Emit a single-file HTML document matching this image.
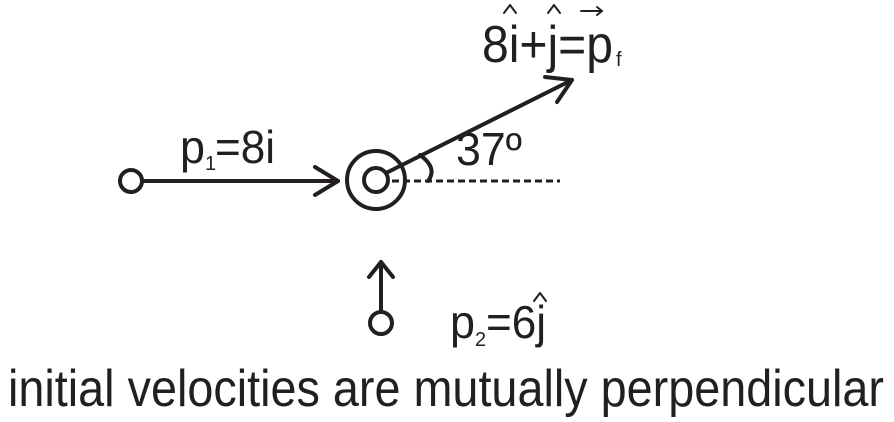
<!DOCTYPE html>
<html><head><style>html,body{margin:0;padding:0;background:#fff}svg{display:block}</style></head>
<body>
<svg width="894" height="422" viewBox="0 0 894 422" xmlns="http://www.w3.org/2000/svg" font-family="Liberation Sans, Arial, sans-serif" fill="#231f20">
<g stroke="#231f20" stroke-width="4" fill="none" stroke-linecap="round" stroke-linejoin="round">
<circle cx="131" cy="181" r="11"/>
<line x1="142" y1="181" x2="338" y2="181"/>
<polyline points="315,167 338,181 315,195"/>
<circle cx="376" cy="180" r="29"/>
<circle cx="376" cy="180" r="12"/>
<line x1="386" y1="173" x2="572" y2="80"/>
<polyline points="545,77 572,80 557,102"/>
<line x1="392" y1="181" x2="560" y2="181" stroke-dasharray="7,4" stroke-linecap="butt" stroke-width="3"/>
<path d="M420,155 Q438,168 428,181"/>
<line x1="381" y1="310" x2="381" y2="262"/>
<polyline points="369,277 381,262 393,277"/>
<circle cx="381" cy="323" r="11"/>
<polyline points="504,13 510,5 516,13" stroke-width="2"/>
<polyline points="548,13 554,5 560,13" stroke-width="2"/>
<line x1="581" y1="11" x2="602" y2="11" stroke-width="2"/>
<polyline points="597,7 602,11 597,15" stroke-width="2"/>
<polyline points="534,301 540,293 546,301" stroke-width="2"/>
</g>
<text x="180" y="163" font-size="46" textLength="25" lengthAdjust="spacingAndGlyphs">p</text>
<text x="205" y="170" font-size="20">1</text>
<text x="215" y="163" font-size="46" textLength="60" lengthAdjust="spacingAndGlyphs">=8i</text>
<text x="456" y="165" font-size="46" textLength="66" lengthAdjust="spacingAndGlyphs">37º</text>
<text x="482" y="62" font-size="52" textLength="131" lengthAdjust="spacingAndGlyphs">8i+j=p</text>
<text x="616" y="66" font-size="20">f</text>
<text x="450" y="338" font-size="46" textLength="25" lengthAdjust="spacingAndGlyphs">p</text>
<text x="475" y="346" font-size="20">2</text>
<text x="486" y="338" font-size="46" textLength="60" lengthAdjust="spacingAndGlyphs">=6j</text>
<text x="8" y="406" font-size="52" textLength="876" lengthAdjust="spacingAndGlyphs">initial velocities are mutually perpendicular</text>
</svg>
</body></html>
